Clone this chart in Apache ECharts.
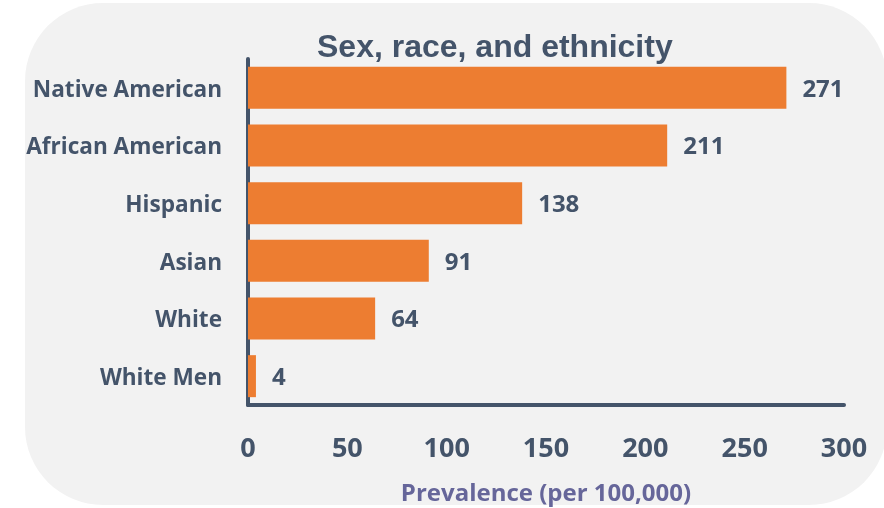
<!DOCTYPE html>
<html>
<head>
<meta charset="utf-8">
<script src="https://cdn.jsdelivr.net/npm/echarts@6/dist/echarts.min.js"></script>
<style>
html,body{margin:0;padding:0;background:#ffffff;}
#chart{width:884px;height:508px;}
</style>
</head>
<body>
<div id="chart"></div>
<script>
const categories = ["Native American", "African American", "Hispanic", "Asian", "White", "White Men"];
const values = [271, 211, 138, 91, 64, 4];
const xTicks = [0, 50, 100, 150, 200, 250, 300];
const titleText = "Sex, race, and ethnicity";
const xAxisName = "Prevalence (per 100,000)";

const textColor = "#44546A";
const fontFam = "'Open Sans', 'Noto Sans', sans-serif";

const chart = echarts.init(document.getElementById('chart'), null, {renderer: 'canvas'});
chart.setOption({
  animation: false,
  backgroundColor: '#ffffff',
  graphic: [
    {
      type: 'rect', z: -10, silent: true,
      shape: {x: 25, y: 3, width: 862, height: 502, r: 78},
      style: {fill: '#F2F2F2'}
    },
    {
      type: 'text', z: 10, left: 317, top: 32,
      style: {
        text: titleText, fill: textColor,
        font: "bold 32px 'Liberation Sans', Arial, sans-serif"
      }
    }
  ],
  grid: {left: 248, right: 40, top: 59, bottom: 103, containLabel: false, outerBoundsMode: 'none'},
  xAxis: {
    type: 'value', min: xTicks[0], max: xTicks[xTicks.length - 1], interval: 50,
    axisLine: {show: true, onZero: false, lineStyle: {color: textColor, width: 4}},
    axisTick: {show: false},
    splitLine: {show: false},
    axisLabel: {color: textColor, fontFamily: fontFam, fontWeight: 'bold', fontSize: 27, margin: 31},
    name: xAxisName, nameLocation: 'middle', nameGap: 77,
    nameTextStyle: {color: '#66669A', fontFamily: fontFam, fontWeight: 'bold', fontSize: 24}
  },
  yAxis: {
    type: 'category', data: categories, inverse: true,
    axisLine: {show: true, lineStyle: {color: textColor, width: 4}},
    axisTick: {show: false},
    axisLabel: {
      margin: 26,
      formatter: function (v) { return '{c|' + v + '}'; },
      rich: {c: {color: textColor, fontFamily: fontFam, fontWeight: 'bold', fontSize: 22.6, padding: [5, 0, 0, 0]}}
    }
  },
  series: [{
    type: 'bar', data: values, barWidth: 42,
    itemStyle: {color: '#ED7D31'},
    label: {
      show: true, position: 'right', distance: 16, offset: [0, 2],
      color: textColor, fontFamily: fontFam, fontWeight: 'bold', fontSize: 24
    }
  }]
});
</script>
</body>
</html>
